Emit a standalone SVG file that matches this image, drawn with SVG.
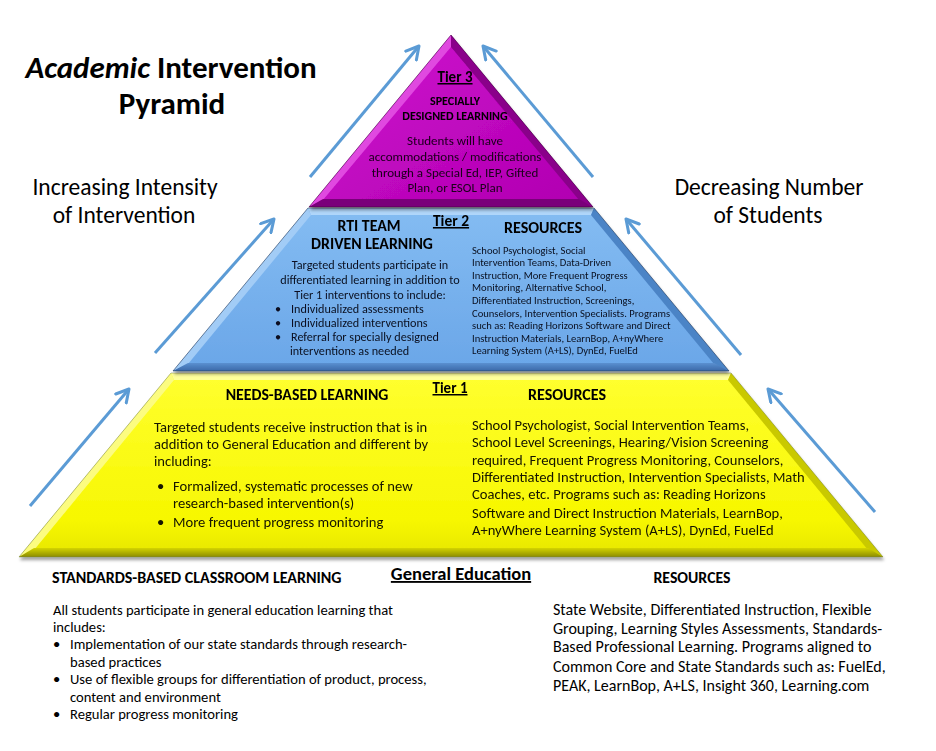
<svg xmlns="http://www.w3.org/2000/svg" width="936" height="751" viewBox="0 0 936 751">
<defs>
<style>
text{font-family:Carlito,Lato,"Liberation Sans",sans-serif;fill:#000}
.b{font-weight:bold}
.u{text-decoration:underline}
.mid{text-anchor:middle}
.title{font-size:31px;font-weight:bold}
.side{font-size:23.5px}
.t3{font-size:13px;fill:#1a001a}
.t2{font-size:12.2px;fill:#0a1020}
.t2r{font-size:10.6px;fill:#0a1020}
.t1{font-size:14.6px;fill:#141400}
.g{font-size:14.6px}
.gr{font-size:16px}
.arrow{stroke:#5B9BD5;stroke-width:3;fill:none;marker-end:url(#ah)}
</style>
<marker id="ah" viewBox="0 0 12 12" refX="10" refY="6" markerWidth="5.5" markerHeight="5.5" orient="auto" markerUnits="strokeWidth">
<path d="M1,1 L10,6 L1,11" fill="none" stroke="#5B9BD5" stroke-width="2.2" stroke-linecap="round" stroke-linejoin="round"/>
</marker>
<linearGradient id="y1" x1="0" y1="0" x2="0" y2="1">
<stop offset="0" stop-color="#FFFF30"/><stop offset="0.8" stop-color="#F7F700"/><stop offset="1" stop-color="#E6E600"/>
</linearGradient>
<linearGradient id="yb" x1="0" y1="0" x2="0" y2="1">
<stop offset="0" stop-color="#D4D400"/><stop offset="1" stop-color="#8C8C00"/>
</linearGradient>
<linearGradient id="b1" x1="0" y1="0" x2="0" y2="1">
<stop offset="0" stop-color="#84BCF2"/><stop offset="1" stop-color="#6AA6E8"/>
</linearGradient>
<linearGradient id="bb" x1="0" y1="0" x2="0" y2="1">
<stop offset="0" stop-color="#5A90D0"/><stop offset="1" stop-color="#3A68A8"/>
</linearGradient>
<linearGradient id="m1" x1="0" y1="0" x2="1" y2="1">
<stop offset="0" stop-color="#D010D0"/><stop offset="1" stop-color="#B000B0"/>
</linearGradient>
<filter id="sh" x="-5%" y="-5%" width="110%" height="115%">
<feDropShadow dx="1" dy="3" stdDeviation="1.5" flood-color="#000" flood-opacity="0.35"/>
</filter>
</defs>
<rect width="936" height="751" fill="#fff"/>

<g id="connectors">
<line class="arrow" x1="30" y1="506" x2="129" y2="389"/>
<line class="arrow" x1="155" y1="353" x2="274" y2="219"/>
<line class="arrow" x1="310" y1="177" x2="419" y2="46"/>
<line class="arrow" x1="875" y1="512" x2="768" y2="389"/>
<line class="arrow" x1="741" y1="355" x2="626" y2="219"/>
<line class="arrow" x1="593" y1="177" x2="483" y2="46"/>
</g>

<g id="tier1" filter="url(#sh)">
<polygon points="171,373 731,373 883,557 19,557" fill="url(#y1)"/>
<polygon points="171,373 731,373 728,380 174,380" fill="#FFFF9A"/>
<polygon points="171,373 174,380 34,550 19,557" fill="#FCFC80"/>
<polygon points="731,373 883,557 868,550 728,380" fill="#C9C900"/>
<polygon points="19,557 883,557 868,548 34,548" fill="url(#yb)"/>
<polygon points="171,373 731,373 883,557 19,557" fill="none" stroke="#6E7A50" stroke-width="0.8" stroke-opacity="0.6"/>
<text class="b mid" x="307" y="400" font-size="15.8">NEEDS-BASED LEARNING</text>
<text class="b u mid" x="450" y="393" font-size="15">Tier 1</text>
<text class="t1" x="154" y="432">Targeted students receive instruction that is in</text>
<text class="t1" x="154" y="449">addition to General Education and different by</text>
<text class="t1" x="154" y="466">including:</text>
<text class="t1" x="157" y="491">•</text>
<text class="t1" x="173" y="491">Formalized, systematic processes of new</text>
<text class="t1" x="173" y="508">research-based intervention(s)</text>
<text class="t1" x="157" y="527">•</text>
<text class="t1" x="173" y="527">More frequent progress monitoring</text>
<text class="b mid" x="567" y="400" font-size="16">RESOURCES</text>
<text class="t1" x="472" y="430">School Psychologist, Social Intervention Teams,</text>
<text class="t1" x="472" y="447">School Level Screenings, Hearing/Vision Screening</text>
<text class="t1" x="472" y="465">required, Frequent Progress Monitoring, Counselors,</text>
<text class="t1" x="472" y="482">Differentiated Instruction, Intervention Specialists, Math</text>
<text class="t1" x="472" y="499">Coaches, etc. Programs such as: Reading Horizons</text>
<text class="t1" x="472" y="518">Software and Direct Instruction Materials, LearnBop,</text>
<text class="t1" x="472" y="535">A+nyWhere Learning System (A+LS), DynEd, FuelEd</text>
</g>

<g id="tier2" filter="url(#sh)">
<polygon points="308,208 594,208 729,371 173,371" fill="url(#b1)"/>
<polygon points="308,208 594,208 591,215 311,215" fill="#B0D6FA"/>
<polygon points="308,208 311,215 188,364 173,371" fill="#A2CCF6"/>
<polygon points="594,208 729,371 714,364 591,215" fill="#4C84C6"/>
<polygon points="173,371 729,371 714,363 188,363" fill="url(#bb)"/>
<polygon points="308,208 594,208 729,371 173,371" fill="none" stroke="#2A3A55" stroke-width="0.8" stroke-opacity="0.7"/>
<text class="b mid" x="369" y="231" font-size="15.8">RTI TEAM</text>
<text class="b mid" x="372" y="249" font-size="15.8">DRIVEN LEARNING</text>
<text class="b u mid" x="451" y="226" font-size="15.5">Tier 2</text>
<text class="t2 mid" x="370" y="269">Targeted students participate in</text>
<text class="t2 mid" x="370" y="284">differentiated learning in addition to</text>
<text class="t2 mid" x="370" y="299">Tier 1 interventions to include:</text>
<text class="t2" x="275" y="313">•</text>
<text class="t2" x="291" y="313">Individualized assessments</text>
<text class="t2" x="275" y="327">•</text>
<text class="t2" x="291" y="327">Individualized interventions</text>
<text class="t2" x="275" y="341">•</text>
<text class="t2" x="291" y="341">Referral for specially designed</text>
<text class="t2" x="290" y="355">interventions as needed</text>
<text class="b mid" x="543" y="233" font-size="16">RESOURCES</text>
<text class="t2r" x="472" y="254">School Psychologist, Social</text>
<text class="t2r" x="472" y="266">Intervention Teams, Data-Driven</text>
<text class="t2r" x="472" y="279">Instruction, More Frequent Progress</text>
<text class="t2r" x="472" y="291">Monitoring, Alternative School,</text>
<text class="t2r" x="472" y="304">Differentiated Instruction, Screenings,</text>
<text class="t2r" x="472" y="317">Counselors, Intervention Specialists. Programs</text>
<text class="t2r" x="472" y="329">such as: Reading Horizons Software and Direct</text>
<text class="t2r" x="472" y="342">Instruction Materials, LearnBop, A+nyWhere</text>
<text class="t2r" x="472" y="354">Learning System (A+LS), DynEd, FuelEd</text>
</g>

<g id="tier3" filter="url(#sh)">
<polygon points="451,35 593,207 309,207" fill="url(#m1)"/>
<polygon points="451,35 451,47 323,200 309,207" fill="#E048E0"/>
<polygon points="451,35 593,207 579,200 451,47" fill="#8A008A"/>
<polygon points="309,207 593,207 579,199 323,199" fill="#7A007A"/>
<polygon points="451,35 593,207 309,207" fill="none" stroke="#2A002A" stroke-width="0.8" stroke-opacity="0.6"/>
<text class="b u mid" x="455" y="82" font-size="15">Tier 3</text>
<text class="b mid" x="455" y="105" font-size="12" fill="#1a001a">SPECIALLY</text>
<text class="b mid" x="455" y="120" font-size="12" fill="#1a001a">DESIGNED LEARNING</text>
<text class="t3 mid" x="455" y="145">Students will have</text>
<text class="t3 mid" x="455" y="161">accommodations / modifications</text>
<text class="t3 mid" x="455" y="177">through a Special Ed, IEP, Gifted</text>
<text class="t3 mid" x="455" y="192">Plan, or ESOL Plan</text>
</g>

<g id="title">
<text class="title mid" x="171" y="78"><tspan font-style="italic">Academic</tspan> Intervention</text>
<text class="title mid" x="172" y="114">Pyramid</text>
</g>

<g id="label-left">
<text class="side mid" x="125" y="195">Increasing Intensity</text>
<text class="side mid" x="124" y="223">of Intervention</text>
</g>

<g id="label-right">
<text class="side mid" x="769" y="195">Decreasing Number</text>
<text class="side mid" x="768" y="223">of Students</text>
</g>

<g id="general-education">
<text class="b u mid" x="461" y="580" font-size="18.5">General Education</text>
<text class="b" x="52" y="583" font-size="16">STANDARDS-BASED CLASSROOM LEARNING</text>
<text class="g" x="53" y="615">All students participate in general education learning that</text>
<text class="g" x="53" y="632">includes:</text>
<text class="g" x="53" y="649">•</text>
<text class="g" x="70" y="649">Implementation of our state standards through research-</text>
<text class="g" x="70" y="667">based practices</text>
<text class="g" x="53" y="684">•</text>
<text class="g" x="70" y="684">Use of flexible groups for differentiation of product, process,</text>
<text class="g" x="70" y="702">content and environment</text>
<text class="g" x="53" y="719">•</text>
<text class="g" x="70" y="719">Regular progress monitoring</text>
<text class="b mid" x="692" y="583" font-size="15.8">RESOURCES</text>
<text class="gr" x="553" y="615">State Website, Differentiated Instruction, Flexible</text>
<text class="gr" x="553" y="634">Grouping, Learning Styles Assessments, Standards-</text>
<text class="gr" x="553" y="652">Based Professional Learning. Programs aligned to</text>
<text class="gr" x="553" y="672">Common Core and State Standards such as: FuelEd,</text>
<text class="gr" x="553" y="691">PEAK, LearnBop, A+LS, Insight 360, Learning.com</text>
</g>
</svg>
